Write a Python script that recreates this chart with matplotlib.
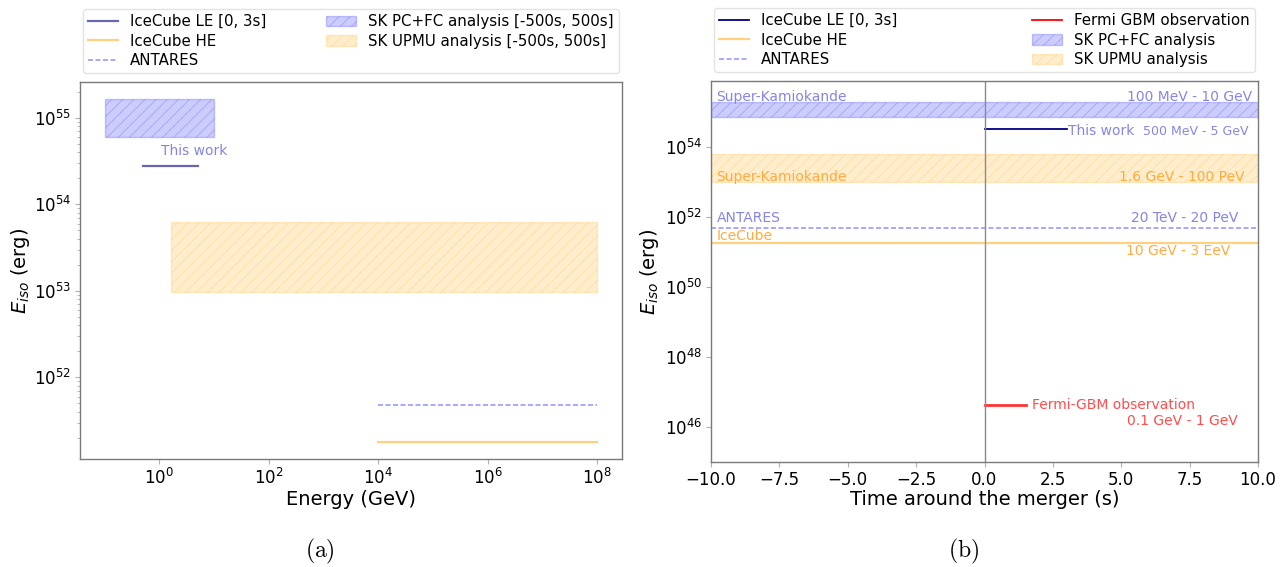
import matplotlib
matplotlib.use("Agg")
import matplotlib.pyplot as plt
import numpy as np

# ---- data ----
# energy ranges (GeV) used in panel (a)
sk_pcfc_energy = [0.1, 10.0]
sk_upmu_energy = [1.6, 1e8]
le_energy = [0.5, 5.0]
antares_energy = [1e4, 1e8]
icecube_he_energy = [1e4, 1e8]

# upper limits on E_iso (erg)
sk_pcfc_eiso = [6.0e54, 1.65e55]
sk_upmu_eiso = [9.6e52, 6.2e53]
le_eiso = 2.8e54
antares_eiso = 4.8e51
icecube_he_eiso = 1.8e51
fermi_eiso = 4.2e46

# time windows (s) used in panel (b)
le_time = [0.0, 3.0]
fermi_time = [0.0, 1.5]
time_range = [-10.0, 10.0]

# range labels
lbl_sk_pcfc = "100 MeV - 10 GeV"
lbl_le = "500 MeV - 5 GeV"
lbl_sk_upmu = "1.6 GeV - 100 PeV"
lbl_antares = "20 TeV - 20 PeV"
lbl_icecube = "10 GeV - 3 EeV"
lbl_fermi = "0.1 GeV - 1 GeV"

plt.rcParams['font.family'] = ['DejaVu Sans']
plt.rcParams['hatch.linewidth'] = 0.6

BLUE_TXT = '#8585e6'
ORANGE_TXT = '#ffab40'
RED_TXT = '#ff4d4d'

fig = plt.figure(figsize=(12.88, 5.67), dpi=100)
W, H = 1288, 567
def ax_rect(x0, y0, x1, y1):
    return [x0 / W, 1 - y1 / H, (x1 - x0) / W, (y1 - y0) / H]

axA = fig.add_axes(ax_rect(80, 82, 622, 459))
axB = fig.add_axes(ax_rect(711, 81, 1258, 462))

def style(ax):
    for s in ax.spines.values():
        s.set_color('#7a7a7a')
        s.set_linewidth(1.0)
    ax.tick_params(which='both', colors='#b0b0b0', labelcolor='black', labelsize=12, pad=3)
    ax.tick_params(which='major', length=3.5)
    ax.tick_params(which='minor', length=2)

leg_kw = dict(ncol=2, loc='lower left', bbox_to_anchor=(0, 1.015, 1, 0.2), mode='expand',
              fontsize=10.8, borderaxespad=0.2, frameon=True, handlelength=2.0,
              labelspacing=0.3, borderpad=0.35, edgecolor='#dddddd')

# ---------- panel (a) ----------
h_le, = axA.plot(le_energy, [le_eiso] * 2, color='navy', alpha=0.6, lw=1.6,
                 label='IceCube LE [0, 3s]')
h_he, = axA.plot(icecube_he_energy, [icecube_he_eiso] * 2, color='orange', alpha=0.5, lw=1.6,
                 label='IceCube HE')
h_an, = axA.plot(antares_energy, [antares_eiso] * 2, color='blue', alpha=0.4, lw=1.2,
                 ls='--', dashes=(3, 1.5), label='ANTARES')
h_sk1 = axA.fill_between(sk_pcfc_energy, [sk_pcfc_eiso[0]] * 2, [sk_pcfc_eiso[1]] * 2,
                         facecolor=(0, 0, 1, 0.2), edgecolor=(0, 0, 1, 0.2), hatch='///',
                         lw=1, label='SK PC+FC analysis [-500s, 500s]')
h_sk2 = axA.fill_between(sk_upmu_energy, [sk_upmu_eiso[0]] * 2, [sk_upmu_eiso[1]] * 2,
                         facecolor=(1, 0.647, 0, 0.2), edgecolor=(1, 0.647, 0, 0.2), hatch='///',
                         lw=1, label='SK UPMU analysis [-500s, 500s]')
axA.text(1.05, 4.2e54, 'This work', color=BLUE_TXT, fontsize=10, va='center', ha='left')
axA.set_xscale('log')
axA.set_yscale('log')
axA.set_xticks([1e0, 1e2, 1e4, 1e6, 1e8])
axA.xaxis.set_minor_locator(matplotlib.ticker.NullLocator())
axA.set_xlabel('Energy (GeV)', fontsize=14, labelpad=1)
axA.set_ylabel(r'$E_{iso}$ (erg)', fontsize=14)
axA.yaxis.set_label_coords(-0.089, 0.5)
style(axA)
axA.legend(handles=[h_le, h_he, h_an, h_sk1, h_sk2], **leg_kw)

# ---------- panel (b) ----------
g_le, = axB.plot(le_time, [le_eiso * 1.15] * 2, color='navy', lw=1.3, label='IceCube LE [0, 3s]')
g_he, = axB.plot(time_range, [icecube_he_eiso] * 2, color='orange', alpha=0.5, lw=1.6,
                 label='IceCube HE')
g_an, = axB.plot(time_range, [antares_eiso] * 2, color='blue', alpha=0.4, lw=1.2,
                 ls='--', dashes=(3, 1.5), label='ANTARES')
g_fe, = axB.plot(fermi_time, [fermi_eiso] * 2, color='red', alpha=0.8, lw=2,
                 label='Fermi GBM observation')
g_fe_leg = matplotlib.lines.Line2D([], [], color='red', lw=1.3, label='Fermi GBM observation')
g_sk1 = axB.fill_between(time_range, [sk_pcfc_eiso[0] * 1.2] * 2, [sk_pcfc_eiso[1] * 1.15] * 2,
                         facecolor=(0, 0, 1, 0.2), edgecolor=(0, 0, 1, 0.2), hatch='///',
                         lw=1, label='SK PC+FC analysis')
g_sk2 = axB.fill_between(time_range, [sk_upmu_eiso[0]] * 2, [sk_upmu_eiso[1]] * 2,
                         facecolor=(1, 0.647, 0, 0.2), edgecolor=(1, 0.647, 0, 0.2), hatch='///',
                         lw=1, label='SK UPMU analysis')
axB.axvline(0, color='#8a8a8a', lw=1)
axB.set_yscale('log')
axB.set_xlim(time_range)
axB.set_ylim(1e45, 7.5e55)
axB.set_yticks([1e46, 1e48, 1e50, 1e52, 1e54])
axB.yaxis.set_minor_locator(matplotlib.ticker.NullLocator())
axB.set_xlabel('Time around the merger (s)', fontsize=14, labelpad=1)
axB.set_ylabel(r'$E_{iso}$ (erg)', fontsize=14)
axB.yaxis.set_label_coords(-0.091, 0.5)
style(axB)

fs = 10
axB.text(-9.8, 2.7e55, 'Super-Kamiokande', color=BLUE_TXT, fontsize=fs, va='center')
axB.text(9.8, 2.7e55, lbl_sk_pcfc, color=BLUE_TXT, fontsize=fs, va='center', ha='right')
axB.text(3.07, le_eiso * 1.0, 'This work', color=BLUE_TXT, fontsize=fs, va='center', ha='left')
axB.text(9.65, le_eiso * 1.0, lbl_le, color=BLUE_TXT, fontsize=9, va='center', ha='right')
axB.text(-9.8, 1.38e53, 'Super-Kamiokande', color=ORANGE_TXT, fontsize=fs, va='center')
axB.text(9.5, 1.38e53, lbl_sk_upmu, color=ORANGE_TXT, fontsize=fs, va='center', ha='right')
axB.text(-9.8, 9.0e51, 'ANTARES', color=BLUE_TXT, fontsize=fs, va='center')
axB.text(9.3, 9.0e51, lbl_antares, color=BLUE_TXT, fontsize=fs, va='center', ha='right')
axB.text(-9.8, 2.9e51, 'IceCube', color=ORANGE_TXT, fontsize=fs, va='center')
axB.text(9.0, 1.07e51, lbl_icecube, color=ORANGE_TXT, fontsize=fs, va='center', ha='right')
axB.text(1.75, fermi_eiso, 'Fermi-GBM observation', color=RED_TXT, fontsize=fs, va='center', ha='left')
axB.text(9.25, fermi_eiso * 0.36, lbl_fermi, color=RED_TXT, fontsize=fs, va='center', ha='right')

axB.legend(handles=[g_le, g_he, g_an, g_fe_leg, g_sk1, g_sk2], **leg_kw)

fig.text(320 / W, 1 - 551 / H, r'$\mathrm{(a)}$', math_fontfamily='cm', fontsize=17,
         ha='center', va='center')
fig.text(964 / W, 1 - 551 / H, r'$\mathrm{(b)}$', math_fontfamily='cm', fontsize=17,
         ha='center', va='center')

fig.savefig('out.png', dpi=100)
